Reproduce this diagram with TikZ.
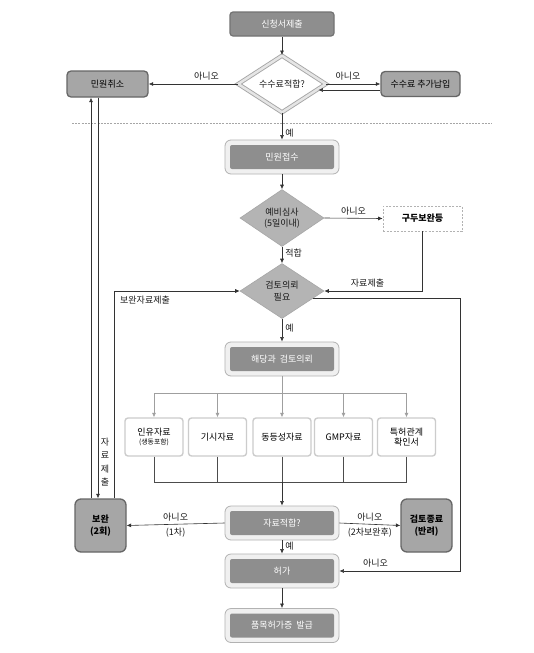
\documentclass[tikz,border=0pt]{standalone}
\usepackage{fontspec}
\setmainfont{Noto Sans CJK KR}
\usetikzlibrary{arrows.meta,shapes.geometric,calc}
\definecolor{dk}{HTML}{8E8E8E}
\definecolor{mid}{HTML}{A6A6A6}
\definecolor{dia}{HTML}{B4B4B4}
\begin{document}
\begin{tikzpicture}[x=1pt,y=-1pt,
  font=\fontsize{9}{10.5}\selectfont,
  arr/.style={-{Latex[length=4.5pt,width=4pt]}, draw=black!80, line width=0.6pt},
  ln/.style={draw=black!70, line width=0.6pt},
  garr/.style={-{Latex[length=4.5pt,width=4pt]}, draw=gray!75, line width=0.6pt},
  gln/.style={draw=gray!75, line width=0.6pt},
  topbox/.style={rectangle, rounded corners=3pt, fill=dk, draw=black!55, line width=1.2pt, text=white},
  gbox/.style={rectangle, rounded corners=4pt, fill=mid, draw=black!60, line width=1.3pt, text=black},
  bbox/.style={rectangle, rounded corners=6pt, fill=mid, draw=black!60, line width=1.3pt, text=black, align=center, font=\fontsize{9}{11.5}\selectfont\bfseries, minimum width=51pt, minimum height=53pt},
  outerbox/.style={rectangle, rounded corners=6pt, fill=gray!12, draw=gray!60, line width=0.8pt, minimum width=114pt, minimum height=34pt},
  innerbox/.style={rectangle, rounded corners=2pt, fill=dk, draw=none, text=white, minimum width=104pt, minimum height=24pt},
  dia1/.style={diamond, fill=white, draw=gray!70, double=gray!20, double distance=2.5pt, line width=0.9pt, inner sep=0pt, minimum width=88pt, minimum height=57pt},
  diab/.style={diamond, fill=dia, draw=gray!70, line width=0.6pt, inner sep=0pt, minimum width=84pt, minimum height=57pt},
  dashbox/.style={rectangle, draw=gray!60, dash pattern=on 2pt off 1.5pt, line width=0.7pt, fill=white, font=\fontsize{9}{10.5}\selectfont\bfseries},
  docbox/.style={rectangle, rounded corners=3pt, draw=gray!40, line width=1.4pt, fill=white, minimum width=58pt, minimum height=38pt, align=center},
  lab/.style={text=black!90, inner sep=1pt},
  dtext/.style={align=center, font=\fontsize{9}{11.5}\selectfont, text=black!90}
]
\useasboundingbox[fill=white] (0,0) rectangle (534,653);

% nodes
\node[topbox, minimum width=104pt, minimum height=24pt] (s1) at (282,24) {신청서제출};
\node[dia1] (d1) at (282,84) {};
\node[dtext] (d1t) at (d1) {수수료적합?};
\node[gbox, minimum width=81pt, minimum height=26pt] (m1) at (107.5,84) {민원취소};
\node[gbox, minimum width=79pt, minimum height=25pt] (m2) at (420.5,84) {수수료 추가납입};

\node[outerbox] (n1) at (282,157) {};
\node[innerbox] (n1i) at (n1) {민원접수};
\node[diab] (d2) at (282,218) {};
\node[dtext] (d2t) at (d2) {예비심사\\(5일이내)};
\node[dashbox, minimum width=79pt, minimum height=25pt] (g1) at (422.5,218.5) {구두보완등};
\node[diab, minimum height=55pt] (d3) at (282,291) {};
\node[dtext] (d3t) at (d3) {검토의뢰\\필요};

\node[outerbox] (n2) at (282,359) {};
\node[innerbox] (n2i) at (n2) {해당과\ \ 검토의뢰};

\node[docbox] (k1) at (154,437) {인유자료\\[-1pt]{\fontsize{6.8}{8}\selectfont(생동포함)}};
\node[docbox] (k2) at (217.5,437) {기시자료};
\node[docbox] (k3) at (282,437) {동등성자료};
\node[docbox] (k4) at (343.5,437) {GMP자료};
\node[docbox] (k5) at (406.5,437) {특허관계\\확인서};

\node[outerbox] (n3) at (282,523) {};
\node[innerbox] (n3i) at (n3) {자료적합?};
\node[bbox] (b1) at (100.5,525.5) {보완\\(2회)};
\node[bbox] (b2) at (426.5,525.5) {검토종료\\(반려)};
\node[outerbox] (n4) at (282,571) {};
\node[innerbox] (n4i) at (n4) {허가};
\node[outerbox] (n5) at (282,625.5) {};
\node[innerbox] (n5i) at (n5) {품목허가증\ \ 발급};

% helper coordinates
\coordinate (dl) at (72,123);
\coordinate (dr) at (492,123);
\coordinate (topbar) at (0,393);
\coordinate (botbar) at (0,482);
\coordinate (rx) at (460,0);
\coordinate (la) at (91,0);
\coordinate (lb) at (98,0);
\coordinate (lc) at (114,0);

% dashed separator
\draw[gray!70, dash pattern=on 2pt off 1.2pt, line width=0.5pt] (dl) -- (dr);

% connectors
\draw[arr] (s1) -- (d1);
\draw[arr] (d1.west) -- node[lab, above=2pt, pos=0.35] (l1) {아니오} (m1.east);
\draw[arr] (d1.east) -- node[lab, above=2pt, pos=0.4] (l2) {아니오} (m2.west);
\draw[arr] ([yshift=-6pt]m2.west) -- ([yshift=-6pt,xshift=-8pt]d1.east);
\draw[arr] (d1.south) -- node[lab, right=2pt, pos=0.75] (l3) {예} (n1.north);
\draw[arr] (n1.south) -- (d2.north);
\draw[arr] (d2.east) -- node[lab, above=2pt, pos=0.5] (l4) {아니오} (g1.west);
\draw[arr] (g1.south) |- node[lab, above=3pt, pos=0.78] (l5) {자료제출} (d3.east);
\draw[arr] (d2.south) -- node[lab, right=2pt, pos=0.4] (l6) {적합} (d3.north);
\draw[arr] (b1.north -| lc) |- (d3.west);
\node[lab] (l7) at (145,300) {보완자료제출};
\draw[arr] (d3.-13) -- (d3.-13 -| rx) |- node[lab, above=3pt, pos=0.85] (l8) {아니오} (n4.east);
\draw[arr] (d3.south) -- node[lab, right=2pt, pos=0.4] (l9) {예} (n2.north);

% fan out
\draw[gln] (n2.south) -- (n2.south |- topbar);
\draw[gln] (k1.north |- topbar) -- (k5.north |- topbar);
\foreach \k in {k1,k2,k3,k4,k5}{
  \draw[garr] (\k.north |- topbar) -- (\k.north);
  \draw[ln] (\k.south) -- (\k.south |- botbar);
}
\draw[ln] (k1.south |- botbar) -- (k5.south |- botbar);
\draw[arr] (k3.south |- botbar) -- (n3.north);

\draw[arr] (n3.west) -- node[lab, above=2pt] (l10) {아니오} node[lab, below=2pt] (l11) {(1차)} (b1.east);
\draw[arr] (n3.east) -- node[lab, above=2pt] (l12) {아니오} node[lab, below=2pt] (l13) {(2차보완후)} (b2.west);
\draw[arr] (n3.south) -- node[lab, right=2pt, pos=0.4] (l14) {예} (n4.north);
\draw[arr] (n4.south) -- (n5.north);

% left loop lines
\draw[arr] (b1.north -| la) -- (m1.south -| la);
\draw[arr] (m1.south -| lb) -- (b1.north -| lb);
\node[lab, align=center, font=\fontsize{9}{13.5}\selectfont] (l15) at (105,462) {자\\료\\제\\출};
\end{tikzpicture}
\end{document}
